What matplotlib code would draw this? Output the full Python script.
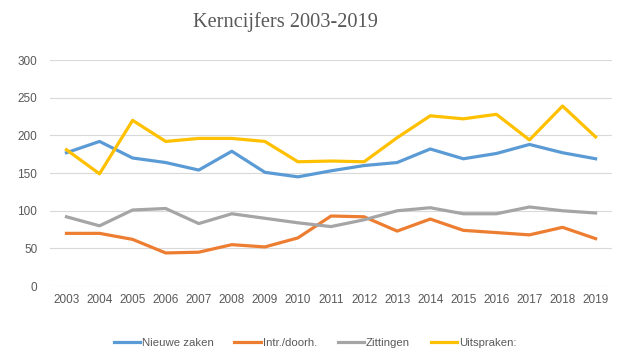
import matplotlib
matplotlib.use("Agg")
import matplotlib.pyplot as plt

years = list(range(2003, 2020))
nieuwe_zaken = [177, 192, 170, 164, 154, 179, 151, 145, 153, 160, 164, 182, 169, 176, 188, 177, 169]
intr_doorh = [70, 70, 62, 44, 45, 55, 52, 64, 93, 92, 73, 89, 74, 71, 68, 78, 63]
zittingen = [92, 80, 101, 103, 83, 96, 90, 84, 79, 88, 100, 104, 96, 96, 105, 100, 97]
uitspraken = [181, 149, 220, 192, 196, 196, 192, 165, 166, 165, 197, 226, 222, 228, 194, 239, 198]

series_labels = ["Nieuwe zaken", "Intr./doorh.", "Zittingen", "Uitspraken:"]
colors = ["#5B9BD5", "#ED7D31", "#A5A5A5", "#FFC000"]
yticks = [0, 50, 100, 150, 200, 250, 300]

plt.rcParams['font.family'] = ['Liberation Sans', 'DejaVu Sans']

fig = plt.figure(figsize=(6.24, 3.64), dpi=100)
ax = fig.add_axes([0.080, 0.214, 0.901, 0.621])

for vals, lab, c in zip([nieuwe_zaken, intr_doorh, zittingen, uitspraken], series_labels, colors):
    ax.plot(years, vals, color=c, lw=2.3, label=lab, solid_joinstyle='round', zorder=3)

ax.set_xlim(2002.5, 2019.5)
ax.set_ylim(0, 300)
ax.set_yticks(yticks)
ax.set_xticks(years)
ax.set_xticklabels([str(y) for y in years])
ax.grid(axis='y', color='#D9D9D9', lw=0.8, zorder=0)
ax.set_axisbelow(True)
for s in ax.spines.values():
    s.set_visible(False)
ax.tick_params(axis='both', length=0, colors='#595959', labelsize=8.5)
ax.tick_params(axis='y', pad=9)
ax.tick_params(axis='x', pad=6)

fig.text(0.457, 0.94, "Kerncijfers 2003-2019", ha='center', va='center',
         fontsize=14.7, color='#595959', family=['Liberation Serif', 'DejaVu Serif'])

fig.legend(loc='center', bbox_to_anchor=(0.505, 0.058), ncol=4, frameon=False,
           fontsize=8.2, handlelength=2.3, handletextpad=0.2, columnspacing=1.8,
           labelcolor='#595959')

fig.savefig("out.png", dpi=100, facecolor='white')
